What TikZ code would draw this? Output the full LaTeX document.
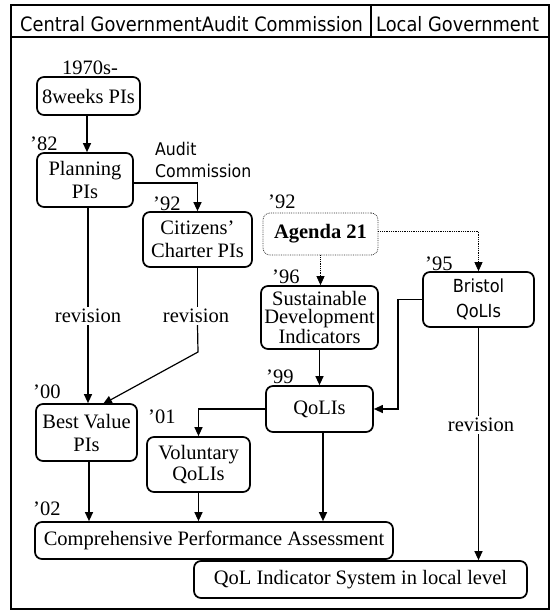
\documentclass[tikz,border=0pt]{standalone}
\usepackage{fontspec}
\setmainfont{Liberation Serif}
\newfontfamily\sff[FakeStretch=0.9]{DejaVu Sans}
\usetikzlibrary{arrows.meta}
\tikzset{
  x=1pt, y=-1pt,
  box/.style={draw, line width=1.7pt, rounded corners=7pt, inner sep=0pt, align=center,
    font=\fontsize{20.5}{23}\selectfont},
  dotbox/.style={box, line width=0.8pt, densely dotted, draw=black!80},
  lbl/.style={anchor=base west, inner sep=0pt, font=\fontsize{20.5}{23}\selectfont},
  rev/.style={inner sep=2pt, font=\fontsize{20.5}{23}\selectfont},
  ln/.style={line width=1.2pt},
  arr/.style={ln, -{Triangle[length=9pt,width=8pt]}},
  dotarr/.style={line width=0.8pt, densely dotted, -{Triangle[length=9pt,width=8pt]}},
  frame/.style={line width=1.1pt},
  hdr/.style={anchor=base west, inner sep=0pt, font=\sff\fontsize{19.8}{22}\selectfont}
}
\begin{document}
\begin{tikzpicture}
\useasboundingbox (0,0) rectangle (552,611);
% frame and header
\draw[frame] (11,5) rectangle (549,609);
\draw[frame] (11,37) -- (549,37);
\draw[frame] (371,5) -- (371,37);
\node[hdr] (h1) at (20,31) {Central GovernmentAudit Commission};
\node[hdr] (h2) at (376,31) {Local Government};

% year labels
\node[lbl] (y70) at (62,74) {1970s-};
\node[lbl] (y82) at (30,150) {’82};
\node[lbl] (y92a) at (153,210) {’92};
\node[lbl] (y92b) at (268,208) {’92};
\node[lbl] (y96) at (272,283) {’96};
\node[lbl] (y95) at (425,270) {’95};
\node[lbl] (y99) at (266,383) {’99};
\node[lbl] (y00) at (33,398) {’00};
\node[lbl] (y01) at (148,423) {’01};
\node[lbl] (y02) at (33,515) {’02};
\node[anchor=north west, inner sep=0pt, align=left, font=\sff\fontsize{17.5}{22}\selectfont] (ac) at (155,142) {Audit\\Commission};

% boxes
\node[box, minimum width=103pt, minimum height=38pt] (w8) at (88.5,96) {8weeks PIs};
\node[box, minimum width=96pt, minimum height=54pt] (plan) at (85,180) {Planning\\PIs};
\node[box, minimum width=109pt, minimum height=55pt] (citz) at (197.5,239.5) {Citizens’\\Charter PIs};
\node[dotbox, minimum width=115pt, minimum height=42pt, font=\fontsize{20.5}{23}\selectfont\bfseries] (agenda) at (320.5,234) {Agenda 21};
\node[box, minimum width=117pt, minimum height=63pt, font=\fontsize{20.5}{18.5}\selectfont] (sdi) at (319.5,317.5) {Sustainable\\Development\\Indicators};
\node[box, minimum width=111pt, minimum height=55pt, font=\sff\fontsize{18}{25}\selectfont] (bristol) at (478.5,299.5) {Bristol\\QoLIs};
\node[box, minimum width=107pt, minimum height=46pt] (qol) at (319.5,409) {QoLIs};
\node[box, minimum width=101pt, minimum height=57pt] (best) at (86.5,432.5) {Best Value\\PIs};
\node[box, minimum width=103pt, minimum height=55pt, font=\fontsize{20.5}{21.5}\selectfont] (vol) at (198.5,464.5) {Voluntary\\QoLIs};
\node[box, minimum width=358pt, minimum height=37pt] (cpa) at (214,540.5) {Comprehensive Performance Assessment};
\node[box, minimum width=333pt, minimum height=37pt] (qsys) at (360.5,579.5) {QoL Indicator System in local level};

% revision labels
\node[rev] (r1) at (88,316) {revision};
\node[rev] (r2) at (196,316) {revision};
\node[rev] (r3) at (481,425) {revision};
\coordinate (bend) at (198,352);
\coordinate (bvtip) at (103,404);

% connectors
\draw[arr] (w8.south -| 87,0) -- (plan.north -| 87,0);
\draw[arr] (plan.east |- 0,183) -| (citz.north);
\draw[ln] (r1.north |- plan.south) -- (r1.north);
\draw[arr] (r1.south) -- (r1.south |- best.north);
\draw[ln] (citz.south) -- (citz.south |- r2.north);
\draw[arr] (citz.south |- r2.south) -- (bend) -- (bvtip);
\draw[dotarr] (agenda.south) -- (agenda.south |- sdi.north);
\draw[dotarr] (agenda.east |- 0,231) -| (bristol.north);
\draw[arr] (sdi.south) -- (qol.north);
\draw[arr] (bristol.west) -- (398,299.5) |- (qol.east);
\draw[arr] (qol.west) -| (vol.north);
\draw[ln] (bristol.south) -- (bristol.south |- r3.north);
\draw[arr] (bristol.south |- r3.south) -- (bristol.south |- qsys.north);
\draw[arr] (best.south -| 89,0) -- (cpa.north -| 89,0);
\draw[arr] (vol.south) -- (vol.south |- cpa.north);
\draw[arr] (qol.south -| 323,0) -- (cpa.north -| 323,0);
\end{tikzpicture}
\end{document}
